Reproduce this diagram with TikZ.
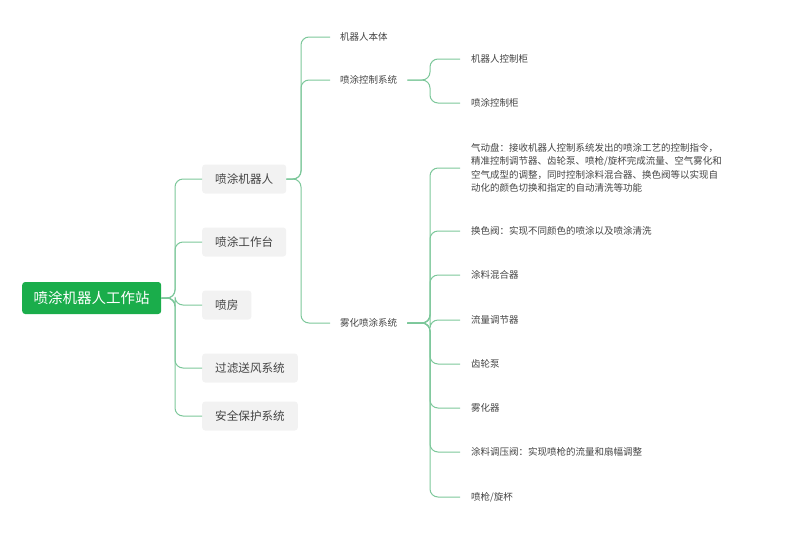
\documentclass[tikz,border=0pt]{standalone}
\usepackage{fontspec}
\setmainfont{Noto Sans CJK SC}
\definecolor{rootg}{HTML}{1AAD4B}
\definecolor{lineg}{HTML}{7CC79A}
\definecolor{txt}{HTML}{444444}
\definecolor{boxg}{HTML}{F2F2F2}
\begin{document}
\begin{tikzpicture}[x=1pt,y=-1pt,
  rootbox/.style={fill=rootg,text=white,rounded corners=3pt,minimum height=32pt,minimum width=139pt,inner xsep=4pt,anchor=west,font=\fontsize{14.5}{17}\selectfont},
  lvlone/.style={fill=boxg,text=txt,rounded corners=3pt,minimum height=29pt,inner xsep=13pt,anchor=west,font=\fontsize{11.6}{14}\selectfont},
  lvltwo/.style={text=txt,anchor=west,inner xsep=10pt,font=\fontsize{9.5}{12}\selectfont},
  lvlthree/.style={text=txt,anchor=west,inner xsep=11pt,font=\fontsize{9.5}{13.5}\selectfont,align=left},
  conn/.style={draw=lineg,line width=1pt,rounded corners=8pt}]
\useasboundingbox (0,0) rectangle (800,555);
\node[rootbox] (root) at (22,298) {喷涂机器人工作站};
\node[lvlone] (a1) at (202,179) {喷涂机器人};
\node[lvlone] (a2) at (202,242) {喷涂工作台};
\node[lvlone] (a3) at (202,305) {喷房};
\node[lvlone] (a4) at (202,368) {过滤送风系统};
\node[lvlone] (a5) at (202,416) {安全保护系统};
\foreach \n in {a1,a2,a3,a4,a5}{\draw[conn] (root.east) -- (175,298) |- (\n.west);}
\node[lvltwo] (b1) at (330,37) {机器人本体};
\node[lvltwo] (b2) at (330,80) {喷涂控制系统};
\node[lvltwo] (b3) at (330,323) {雾化喷涂系统};
\foreach \n in {b1,b2,b3}{\draw[conn] (a1.east) -- (301,179) |- (\n.west);}
\node[lvlthree] (c1) at (460,59) {机器人控制柜};
\node[lvlthree] (c2) at (460,103) {喷涂控制柜};
\foreach \n in {c1,c2}{\draw[conn] (b2.east) -- (430,80) |- (\n.west);}
\node[lvlthree] (d1) at (460,168) {气动盘：接收机器人控制系统发出的喷涂工艺的控制指令，\\精准控制调节器、齿轮泵、喷枪/旋杯完成流量、空气雾化和\\空气成型的调整，同时控制涂料混合器、换色阀等以实现自\\动化的颜色切换和指定的自动清洗等功能};
\node[lvlthree] (d2) at (460,231) {换色阀：实现不同颜色的喷涂以及喷涂清洗};
\node[lvlthree] (d3) at (460,275) {涂料混合器};
\node[lvlthree] (d4) at (460,320) {流量调节器};
\node[lvlthree] (d5) at (460,364) {齿轮泵};
\node[lvlthree] (d6) at (460,408) {雾化器};
\node[lvlthree] (d7) at (460,452) {涂料调压阀：实现喷枪的流量和扇幅调整};
\node[lvlthree] (d8) at (460,497) {喷枪/旋杯};
\foreach \n in {d1,d2,d3,d4,d5,d6,d7,d8}{\draw[conn] (b3.east) -- (430,323) |- (\n.west);}
\end{tikzpicture}
\end{document}
